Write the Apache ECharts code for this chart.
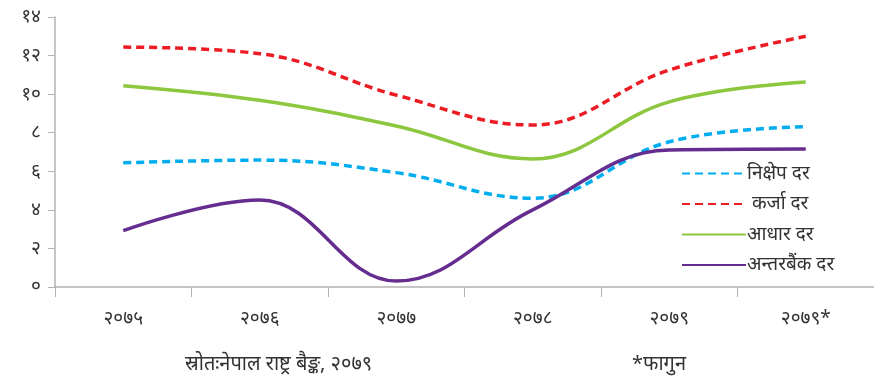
<!DOCTYPE html>
<html><head><meta charset="utf-8">
<script src="https://cdn.jsdelivr.net/npm/echarts@6/dist/echarts.min.js"></script>
<style>html,body{margin:0;padding:0;background:#fff}#c{width:874px;height:383px}</style>
</head><body><div id="c"></div>
<script>
const categories = ['२०७५','२०७६','२०७७','२०७८','२०७९','२०७९*'];
const yTickLabels = {0:'०',2:'२',4:'४',6:'६',8:'८',10:'१०',12:'१२',14:'१४'};
const depositRate = [6.44, 6.58, 5.93, 4.6, 7.53, 8.31];
const lendingRate = [12.44, 12.1, 9.95, 8.4, 11.25, 13.0];
const baseRate = [10.44, 9.68, 8.35, 6.64, 9.6, 10.63];
const interbankRate = [2.92, 4.51, 0.31, 4.0, 7.1, 7.15];
const seriesNames = ['निक्षेप दर', ' कर्जा दर', 'आधार दर', 'अन्तरबैंक दर'];
const sourceText = 'स्रोतःनेपाल राष्ट्र बैङ्क, २०७९';
const noteText = '*फागुन';

const font = "'Noto Sans', 'DejaVu Sans', sans-serif";
const chart = echarts.init(document.getElementById('c'));
function mk(name, data, color, type) {
  return {name, type:'line', data, smooth:0.4, symbol:'none',
    lineStyle:{color, width:3.5, type: type==='dashed' ? [8,5] : 'solid'},
    itemStyle:{color}};
}
chart.setOption({
  animation:false,
  grid:{left:55, top:17, bottom:96, right:-3},
  xAxis:{type:'category', data:categories, boundaryGap:true,
    axisLine:{lineStyle:{color:'#b3b3b3', width:1.5}},
    axisTick:{show:true, length:10, lineStyle:{color:'#b3b3b3'}},
    axisLabel:{color:'#333', fontSize:19, fontFamily:font, margin:22}},
  yAxis:{type:'value', min:0, max:14, interval:2,
    axisLine:{show:true, lineStyle:{color:'#b3b3b3', width:1.5}},
    axisTick:{show:true, length:7, lineStyle:{color:'#b3b3b3'}},
    splitLine:{show:false},
    axisLabel:{color:'#333', fontSize:19, fontFamily:font, margin:14,
      formatter:v=>yTickLabels[v]}},
  legend:{orient:'vertical', left:676, top:159, itemWidth:64, itemHeight:14, itemGap:11.5,
    itemStyle:{opacity:0},
    textStyle:{fontSize:19, color:'#333', fontFamily:font, padding:[0,0,0,-4]},
    data:seriesNames},
  series:[
    mk(seriesNames[0], depositRate, '#00AEEF', 'dashed'),
    mk(seriesNames[1], lendingRate, '#ED1C24', 'dashed'),
    mk(seriesNames[2], baseRate, '#8DC63F', 'solid'),
    mk(seriesNames[3], interbankRate, '#662D91', 'solid')
  ],
  graphic:[
    {type:'text', left:185, top:354, style:{text:sourceText, fill:'#333', font:"20px 'Noto Sans', sans-serif"}},
    {type:'text', left:632, top:354, style:{text:noteText, fill:'#333', font:"20px 'Noto Sans', sans-serif"}}
  ]
});
</script></body></html>
